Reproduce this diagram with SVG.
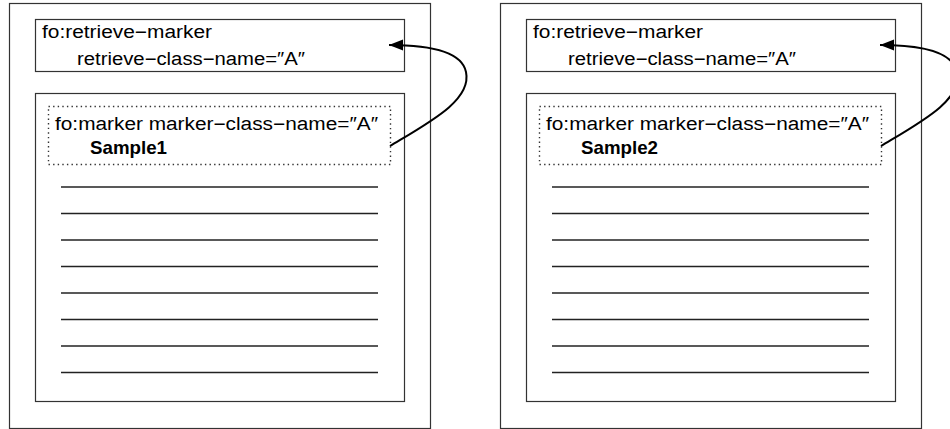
<svg xmlns="http://www.w3.org/2000/svg" width="950" height="429" viewBox="0 0 950 429">
  <defs>
    <style>
      .box { fill: #fff; stroke: #333; stroke-width: 1.2; }
      .dotbox { fill: none; stroke: #333; stroke-width: 1.4; stroke-dasharray: 1.4 3.2; }
      .rule { stroke: #222; stroke-width: 1.3; }
      .txt { font-family: "Liberation Sans", "Noto Sans CJK JP", sans-serif; font-size: 18px; fill: #000; }
      .bold { font-weight: bold; font-size: 18.5px; }
      .link { fill: none; stroke: #000; stroke-width: 2; }
    </style>
    <marker id="head" markerUnits="userSpaceOnUse" markerWidth="15" markerHeight="12" refX="14" refY="5.5" orient="auto">
      <path d="M0,0 L14,5.5 L0,11 z" fill="#000"/>
    </marker>
    <!-- ruled body lines of a page region -->
    <g id="rules">
      <line class="rule" x1="61" y1="187" x2="378" y2="187"/>
      <line class="rule" x1="61" y1="213.5" x2="378" y2="213.5"/>
      <line class="rule" x1="61" y1="240" x2="378" y2="240"/>
      <line class="rule" x1="61" y1="266.5" x2="378" y2="266.5"/>
      <line class="rule" x1="61" y1="293" x2="378" y2="293"/>
      <line class="rule" x1="61" y1="319.5" x2="378" y2="319.5"/>
      <line class="rule" x1="61" y1="346" x2="378" y2="346"/>
      <line class="rule" x1="61" y1="372.5" x2="378" y2="372.5"/>
    </g>
  </defs>

  <!-- page 1 -->
  <g id="page1">
    <rect class="box" x="9.5" y="3.5" width="421" height="425"/>
  </g>
  <g id="retrieve1">
    <rect class="box" x="35.5" y="19.5" width="369" height="52"/>
    <text class="txt" x="42" y="38" textLength="170" lengthAdjust="spacingAndGlyphs">fo:retrieve−marker</text>
    <text class="txt" x="77" y="65" textLength="228" lengthAdjust="spacingAndGlyphs">retrieve−class−name=″A″</text>
  </g>
  <g id="body1">
    <rect class="box" x="35.5" y="93.5" width="369" height="308"/>
    <use href="#rules"/>
  </g>
  <g id="marker1">
    <rect class="dotbox" x="48.5" y="106.5" width="342" height="58"/>
    <text class="txt" x="55" y="130" textLength="323" lengthAdjust="spacingAndGlyphs">fo:marker marker−class−name=″A″</text>
    <text class="txt bold" x="90" y="153.5" textLength="77" lengthAdjust="spacingAndGlyphs">Sample1</text>
  </g>

  <!-- page 2 -->
  <g id="page2">
    <rect class="box" x="500.5" y="3.5" width="421" height="425"/>
  </g>
  <g id="retrieve2">
    <rect class="box" x="526.5" y="19.5" width="369" height="52"/>
    <text class="txt" x="533" y="38" textLength="170" lengthAdjust="spacingAndGlyphs">fo:retrieve−marker</text>
    <text class="txt" x="568" y="65" textLength="228" lengthAdjust="spacingAndGlyphs">retrieve−class−name=″A″</text>
  </g>
  <g id="body2">
    <rect class="box" x="526.5" y="93.5" width="369" height="308"/>
    <use href="#rules" transform="translate(491,0)"/>
  </g>
  <g id="marker2">
    <rect class="dotbox" x="539.5" y="106.5" width="342" height="58"/>
    <text class="txt" x="546" y="130" textLength="323" lengthAdjust="spacingAndGlyphs">fo:marker marker−class−name=″A″</text>
    <text class="txt bold" x="581" y="153.5" textLength="77" lengthAdjust="spacingAndGlyphs">Sample2</text>
  </g>

  <!-- connectors: marker back to retrieve-marker -->
  <g id="connectors">
    <path class="link" d="M390,146 C430,122 472,100 466,72 C462,52 430,45 389,45" marker-end="url(#head)"/>
    <path class="link" d="M881,146 C921,122 963,100 957,72 C953,52 921,45 880,45" marker-end="url(#head)"/>
  </g>
</svg>
